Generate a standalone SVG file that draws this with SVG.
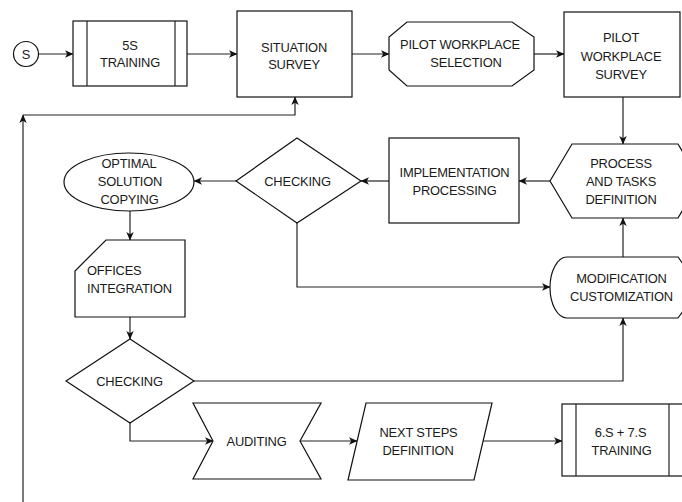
<svg xmlns="http://www.w3.org/2000/svg" width="682" height="502" viewBox="0 0 682 502">
<defs>
<marker id="arr" markerUnits="userSpaceOnUse" markerWidth="9" markerHeight="9" viewBox="0 0 9 9" refX="8" refY="4.5" orient="auto">
<path d="M0,0.8 L8.5,4.5 L0,8.2 L2.2,4.5 Z" fill="#111"/>
</marker>
</defs>
<style>
.s{fill:#fff;stroke:#111;stroke-width:1.2}
.c{fill:none;stroke:#222;stroke-width:1.2}
text{font-family:"Liberation Sans",Arial,sans-serif;font-size:12.9px;fill:#1a1a1a;text-anchor:middle;letter-spacing:-0.2px}
</style>
<rect width="682" height="502" fill="#fff"/>
<g id="connectors">
<path class="c" d="M38.5,54 H73" marker-end="url(#arr)"/>
<path class="c" d="M187,54 H237" marker-end="url(#arr)"/>
<path class="c" d="M352,54 H389" marker-end="url(#arr)"/>
<path class="c" d="M534,54 H564" marker-end="url(#arr)"/>
<path class="c" d="M623,97 V144" marker-end="url(#arr)"/>
<path class="c" d="M550,181 H519" marker-end="url(#arr)"/>
<path class="c" d="M389,181 H361" marker-end="url(#arr)"/>
<path class="c" d="M236,181 H194" marker-end="url(#arr)"/>
<path class="c" d="M130,211 V240" marker-end="url(#arr)"/>
<path class="c" d="M297,223 V287 H550" marker-end="url(#arr)"/>
<path class="c" d="M623,257 V218" marker-end="url(#arr)"/>
<path class="c" d="M130,317 V339" marker-end="url(#arr)"/>
<path class="c" d="M194,381 H623 V318" marker-end="url(#arr)"/>
<path class="c" d="M130,423 V441 H213" marker-end="url(#arr)"/>
<path class="c" d="M300,441 H357" marker-end="url(#arr)"/>
<path class="c" d="M483,441 H562" marker-end="url(#arr)"/>
<path class="c" d="M23,502 V115" marker-end="url(#arr)"/>
<path class="c" d="M23,115 H295 V97" marker-end="url(#arr)"/>
</g>
<g id="start">
<circle class="s" cx="26" cy="54" r="12.5"/>
<text x="26" y="58.5">S</text>
</g>
<g id="training5s">
<rect class="s" x="73" y="21" width="114" height="65"/>
<path class="c" d="M87,21 V86 M175,21 V86"/>
<text x="130" y="49.5">5S</text>
<text x="130" y="66.5">TRAINING</text>
</g>
<g id="situation">
<rect class="s" x="237" y="11" width="115" height="86"/>
<text x="294" y="52">SITUATION</text>
<text x="294" y="68.5">SURVEY</text>
</g>
<g id="pilotSelection">
<polygon class="s" points="407,22 512,22 534,37 534,70 512,86 407,86 389,70 389,37"/>
<text x="460" y="48.5">PILOT WORKPLACE</text>
<text x="466" y="66.5">SELECTION</text>
</g>
<g id="pilotSurvey">
<rect class="s" x="564" y="12" width="116" height="85"/>
<text x="621" y="42">PILOT</text>
<text x="621" y="60.5">WORKPLACE</text>
<text x="621" y="78.5">SURVEY</text>
</g>
<g id="processDef">
<polygon class="s" points="550,181 572,144 678,144 700,181 678,218 572,218"/>
<text x="621" y="167.5">PROCESS</text>
<text x="621" y="185.5">AND TASKS</text>
<text x="621" y="203.5">DEFINITION</text>
</g>
<g id="implementation">
<rect class="s" x="389" y="138" width="130" height="85"/>
<text x="454.5" y="176.5">IMPLEMENTATION</text>
<text x="454.5" y="194.5">PROCESSING</text>
</g>
<g id="checking1">
<polygon class="s" points="297,138 361,181 297,223 236,181"/>
<text x="297.5" y="185.5">CHECKING</text>
</g>
<g id="optimal">
<ellipse class="s" cx="129" cy="182" rx="65" ry="29"/>
<text x="129" y="167.5">OPTIMAL</text>
<text x="130" y="185.5">SOLUTION</text>
<text x="129.5" y="203.5">COPYING</text>
</g>
<g id="modification">
<path class="s" d="M567,257 H678 L700,287.5 L678,318 H567 A17,30.5 0 0 1 567,257 Z"/>
<text x="621.5" y="282.5">MODIFICATION</text>
<text x="621.5" y="300.5">CUSTOMIZATION</text>
</g>
<g id="offices">
<path class="s" d="M106,240 H185 V317 H75 V271 Z"/>
<text x="87" y="274.5" style="text-anchor:start">OFFICES</text>
<text x="87" y="292.5" style="text-anchor:start">INTEGRATION</text>
</g>
<g id="checking2">
<polygon class="s" points="130,339 194,381 130,423 66,381"/>
<text x="129.5" y="385.5">CHECKING</text>
</g>
<g id="auditing">
<polygon class="s" points="193,403 321,403 300,441 321,479 193,479 213,441"/>
<text x="256.5" y="445.5">AUDITING</text>
</g>
<g id="nextSteps">
<polygon class="s" points="366,403 492,403 474,480 348,480"/>
<text x="418.5" y="437">NEXT STEPS</text>
<text x="418" y="455">DEFINITION</text>
</g>
<g id="training67">
<rect class="s" x="562" y="404" width="121" height="72"/>
<path class="c" d="M576,404 V476 M669,404 V476"/>
<text x="620.5" y="437">6.S + 7.S</text>
<text x="621.5" y="455">TRAINING</text>
</g>
</svg>
